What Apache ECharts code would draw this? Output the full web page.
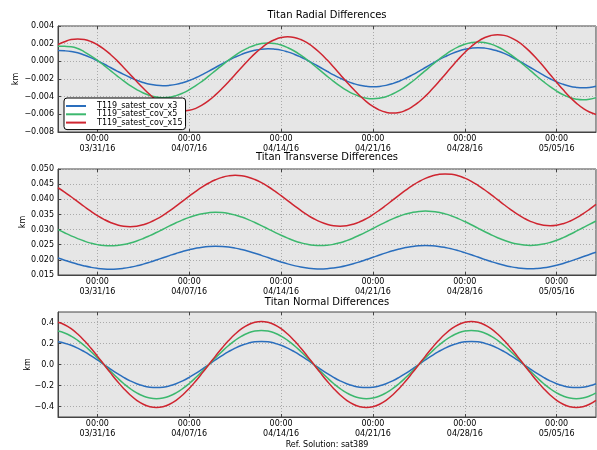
<!DOCTYPE html>
<html><head><meta charset="utf-8">
<script src="https://cdn.jsdelivr.net/npm/echarts@6/dist/echarts.min.js"></script>
<style>html,body{margin:0;padding:0;background:#fff}#c{width:597px;height:450px}</style>
</head><body><div id="c"></div>
<script>
// Samples every half day starting 2016-03-28 00:00 (x in days from that start)
const sampleStepDays = 0.5;
const seriesNames = ['T119_satest_cov_x3', 'T119_satest_cov_x5', 'T119_satest_cov_x15'];
const plotTitles = ['Titan Radial Differences', 'Titan Transverse Differences', 'Titan Normal Differences'];
const footerText = 'Ref. Solution: sat389';
const xTickDays = [3, 10, 17, 24, 31, 38];
const xTickLabels = ['00:00\n03/31/16', '00:00\n04/07/16', '00:00\n04/14/16', '00:00\n04/21/16', '00:00\n04/28/16', '00:00\n05/05/16'];
const normTicks = [-0.4, -0.2, 0, 0.2, 0.4];

const radialX3 = [
0.00122,0.00119,0.00111,0.00097,0.00072,0.00042,0.00007,-0.0003,-0.0007,-0.0011,
-0.00148,-0.00183,-0.00215,-0.0024,-0.0026,-0.00272,-0.00276,-0.00272,-0.00261,-0.00242,
-0.00217,-0.00186,-0.0015,-0.00111,-0.0007,-0.00029,0.0001,0.00047,0.00079,0.00105,
0.00125,0.00138,0.00142,0.00138,0.00127,0.00107,0.00081,0.00049,0.00012,-0.00028,
-0.0007,-0.00112,-0.00153,-0.0019,-0.00223,-0.0025,-0.00271,-0.00283,-0.00288,-0.00284,
-0.00272,-0.00252,-0.00225,-0.00192,-0.00154,-0.00113,-0.0007,-0.00027,0.00015,0.00053,
0.00087,0.00115,0.00136,0.00149,0.00154,0.0015,0.00138,0.00117,0.0009,0.00055,
0.00017,-0.00026,-0.0007,-0.00114,-0.00157,-0.00197,-0.00232,-0.0026,-0.00282,-0.00295,
-0.003,-0.00296,-0.00283];
const radialX5 = [
0.00172,0.0017,0.00165,0.00145,0.00108,0.00063,0.00011,-0.00046,-0.00105,-0.00164,
-0.00221,-0.00274,-0.0032,-0.00359,-0.00387,-0.00405,-0.00411,-0.00406,-0.00388,-0.0036,
-0.00322,-0.00276,-0.00223,-0.00165,-0.00105,-0.00045,0.00014,0.00067,0.00115,0.00153,
0.00183,0.00201,0.00207,0.00201,0.00184,0.00155,0.00117,0.00069,0.00015,-0.00044,
-0.00105,-0.00167,-0.00226,-0.00281,-0.00329,-0.00369,-0.00398,-0.00417,-0.00423,-0.00417,
-0.004,-0.0037,-0.00331,-0.00283,-0.00228,-0.00168,-0.00105,-0.00042,0.00018,0.00074,
0.00123,0.00163,0.00194,0.00212,0.00219,0.00213,0.00195,0.00165,0.00125,0.00076,
0.0002,-0.00041,-0.00105,-0.00169,-0.0023,-0.00287,-0.00337,-0.00378,-0.00409,-0.00428,
-0.00435,-0.00429,-0.00411];
const radialX15 = [
0.0019,0.00222,0.00246,0.00254,0.00247,0.00225,0.00188,0.00139,0.00078,0.00008,
-0.00069,-0.00148,-0.00228,-0.00305,-0.00376,-0.00439,-0.00491,-0.00529,-0.00554,-0.00562,
-0.00555,-0.00532,-0.00494,-0.00443,-0.0038,-0.00308,-0.0023,-0.00148,-0.00066,0.00013,
0.00087,0.00151,0.00205,0.00244,0.00269,0.00278,0.00271,0.00247,0.00208,0.00156,
0.00091,0.00017,-0.00064,-0.00148,-0.00233,-0.00314,-0.00389,-0.00456,-0.00511,-0.00552,
-0.00577,-0.00586,-0.00579,-0.00554,-0.00514,-0.0046,-0.00394,-0.00317,-0.00235,-0.00148,
-0.00061,0.00023,0.001,0.00168,0.00225,0.00267,0.00293,0.00302,0.00294,0.00269,
0.00228,0.00173,0.00104,0.00026,-0.00059,-0.00148,-0.00237,-0.00323,-0.00403,-0.00473,
-0.00531,-0.00574,-0.00601];

const transX3 = [
0.0206,0.01988,0.01919,0.01856,0.018,0.01754,0.0172,0.01699,0.01692,0.01699,
0.01721,0.01756,0.01802,0.01859,0.01924,0.01995,0.02068,0.02141,0.02212,0.02278,
0.02335,0.02382,0.02418,0.0244,0.02448,0.02441,0.02421,0.02387,0.0234,0.02284,
0.02219,0.02149,0.02076,0.02003,0.01932,0.01867,0.0181,0.01763,0.01729,0.01707,
0.017,0.01708,0.0173,0.01765,0.01813,0.01871,0.01937,0.02009,0.02084,0.02159,
0.02231,0.02298,0.02357,0.02405,0.02441,0.02464,0.02472,0.02465,0.02444,0.02409,
0.02362,0.02304,0.02238,0.02167,0.02092,0.02017,0.01945,0.01879,0.01821,0.01773,
0.01737,0.01715,0.01708,0.01716,0.01738,0.01775,0.01823,0.01882,0.0195,0.02024,
0.021,0.02177,0.0225];
const transX5 = [
0.03,0.02895,0.02794,0.02701,0.0262,0.02553,0.02503,0.02472,0.02462,0.02473,
0.02504,0.02555,0.02623,0.02706,0.02801,0.02904,0.03012,0.0312,0.03224,0.0332,
0.03404,0.03473,0.03526,0.03558,0.0357,0.03561,0.0353,0.0348,0.03413,0.0333,
0.03235,0.03132,0.03024,0.02916,0.02812,0.02717,0.02632,0.02563,0.02512,0.0248,
0.0247,0.02481,0.02513,0.02565,0.02636,0.02721,0.02819,0.02925,0.03036,0.03147,
0.03254,0.03352,0.03439,0.03511,0.03564,0.03598,0.0361,0.036,0.03569,0.03518,
0.03448,0.03363,0.03265,0.03159,0.03048,0.02937,0.0283,0.02732,0.02645,0.02574,
0.02521,0.02489,0.02478,0.02489,0.02522,0.02576,0.02648,0.02736,0.02837,0.02946,
0.0306,0.03174,0.03284];
const transX15 = [
0.04381,0.04239,0.04084,0.03923,0.03762,0.03606,0.03463,0.03338,0.03235,0.03158,
0.03111,0.03096,0.03112,0.0316,0.03238,0.03343,0.0347,0.03616,0.03774,0.03939,
0.04104,0.04263,0.04409,0.04538,0.04644,0.04723,0.04773,0.04791,0.04776,0.04729,
0.04653,0.04549,0.04422,0.04277,0.04119,0.03955,0.03791,0.03632,0.03486,0.03358,
0.03253,0.03175,0.03127,0.03112,0.03128,0.03177,0.03257,0.03364,0.03494,0.03642,
0.03803,0.03971,0.04139,0.04301,0.0445,0.04581,0.04689,0.0477,0.04821,0.04839,
0.04824,0.04776,0.04698,0.04592,0.04463,0.04315,0.04154,0.03987,0.03819,0.03658,
0.03509,0.03379,0.03272,0.03192,0.03144,0.03128,0.03145,0.03195,0.03275,0.03384,
0.03517,0.03668,0.03832];

const normX3 = [
0.2158,0.2033,0.1829,0.1556,0.1222,0.0842,0.0429,0,-0.0429,-0.0842,
-0.1222,-0.1556,-0.1829,-0.2033,-0.2158,-0.22,-0.2158,-0.2033,-0.1829,-0.1556,
-0.1222,-0.0842,-0.0429,0,0.0429,0.0842,0.1222,0.1556,0.1829,0.2033,
0.2158,0.22,0.2158,0.2033,0.1829,0.1556,0.1222,0.0842,0.0429,0,
-0.0429,-0.0842,-0.1222,-0.1556,-0.1829,-0.2033,-0.2158,-0.22,-0.2158,-0.2033,
-0.1829,-0.1556,-0.1222,-0.0842,-0.0429,0,0.0429,0.0842,0.1222,0.1556,
0.1829,0.2033,0.2158,0.22,0.2158,0.2033,0.1829,0.1556,0.1222,0.0842,
0.0429,0,-0.0429,-0.0842,-0.1222,-0.1556,-0.1829,-0.2033,-0.2158,-0.22,
-0.2158,-0.2033,-0.1829];
const normX5 = [
0.3188,0.3003,0.2702,0.2298,0.1806,0.1244,0.0634,0,-0.0634,-0.1244,
-0.1806,-0.2298,-0.2702,-0.3003,-0.3188,-0.325,-0.3188,-0.3003,-0.2702,-0.2298,
-0.1806,-0.1244,-0.0634,0,0.0634,0.1244,0.1806,0.2298,0.2702,0.3003,
0.3188,0.325,0.3188,0.3003,0.2702,0.2298,0.1806,0.1244,0.0634,0,
-0.0634,-0.1244,-0.1806,-0.2298,-0.2702,-0.3003,-0.3188,-0.325,-0.3188,-0.3003,
-0.2702,-0.2298,-0.1806,-0.1244,-0.0634,0,0.0634,0.1244,0.1806,0.2298,
0.2702,0.3003,0.3188,0.325,0.3188,0.3003,0.2702,0.2298,0.1806,0.1244,
0.0634,0,-0.0634,-0.1244,-0.1806,-0.2298,-0.2702,-0.3003,-0.3188,-0.325,
-0.3188,-0.3003,-0.2702];
const normX15 = [
0.4021,0.3788,0.3409,0.2899,0.2278,0.1569,0.08,0,-0.08,-0.1569,
-0.2278,-0.2899,-0.3409,-0.3788,-0.4021,-0.41,-0.4021,-0.3788,-0.3409,-0.2899,
-0.2278,-0.1569,-0.08,0,0.08,0.1569,0.2278,0.2899,0.3409,0.3788,
0.4021,0.41,0.4021,0.3788,0.3409,0.2899,0.2278,0.1569,0.08,0,
-0.08,-0.1569,-0.2278,-0.2899,-0.3409,-0.3788,-0.4021,-0.41,-0.4021,-0.3788,
-0.3409,-0.2899,-0.2278,-0.1569,-0.08,0,0.08,0.1569,0.2278,0.2899,
0.3409,0.3788,0.4021,0.41,0.4021,0.3788,0.3409,0.2899,0.2278,0.1569,
0.08,0,-0.08,-0.1569,-0.2278,-0.2899,-0.3409,-0.3788,-0.4021,-0.41,
-0.4021,-0.3788,-0.3409];

const colors = ['#2a6ebd', '#3cb86e', '#cf2530'];
const FONT = 'DejaVu Sans';
const AX = '#444';

const chart = echarts.init(document.getElementById('c'), null, {renderer: 'canvas'});

const gridDefs = [{top: 26, height: 106}, {top: 169, height: 106}, {top: 312, height: 105}];
const panels = [
  {data: [radialX3, radialX5, radialX15], y: {min: -0.008, max: 0.004, interval: 0.002}, dec: 3, nameGap: 38},
  {data: [transX3, transX5, transX15], y: {min: 0.015, max: 0.05, interval: 0.005}, dec: 3, nameGap: 31},
  {data: [normX3, normX5, normX15], y: {min: -0.5, max: 0.5, custom: normTicks}, dec: 1, nameGap: 26}
];

const grid = gridDefs.map(g => ({left: 58, width: 538, top: g.top, height: g.height, show: true,
  backgroundColor: '#e6e6e6', borderColor: AX, borderWidth: 1, containLabel: false}));

const xAxis = gridDefs.map((g, i) => ({
  type: 'value', gridIndex: i, min: 0, max: 41,
  axisLine: {show: true, onZero: false, lineStyle: {color: AX, width: 1}},
  axisTick: {show: true, inside: true, length: 3, customValues: xTickDays, lineStyle: {color: AX}},
  axisLabel: {customValues: xTickDays, color: '#000', fontFamily: FONT, fontSize: 8, lineHeight: 10, margin: 2,
    formatter: v => xTickLabels[xTickDays.indexOf(Math.round(v))] || ''},
  splitLine: {show: true, lineStyle: {color: '#aaaaaa', type: [1, 2], width: 1}}
}));
// top-edge inward ticks (matplotlib style)
gridDefs.forEach((g, i) => xAxis.push({
  type: 'value', gridIndex: i, min: 0, max: 41, position: 'top',
  axisLine: {show: false, onZero: false},
  axisTick: {show: true, inside: true, length: 3, customValues: xTickDays, lineStyle: {color: AX}},
  axisLabel: {show: false, customValues: xTickDays},
  splitLine: {show: false}
}));

const yAxis = panels.map((p, i) => {
  const ax = {
    type: 'value', gridIndex: i, min: p.y.min, max: p.y.max,
    name: 'km', nameLocation: 'middle', nameGap: p.nameGap, nameRotate: 90, nameMoveOverlap: false,
    nameTextStyle: {color: '#000', fontFamily: FONT, fontSize: 8},
    axisLine: {show: true, onZero: false, lineStyle: {color: AX, width: 1}},
    axisTick: {show: true, inside: true, length: 3, lineStyle: {color: AX}},
    axisLabel: {color: '#000', fontFamily: FONT, fontSize: 8, margin: 4,
      formatter: v => {
        let s = v.toFixed(p.dec);
        if (/^-0\.0+$/.test(s)) s = s.slice(1);
        return s.replace('-', '\u2212');
      }},
    splitLine: {show: true, lineStyle: {color: '#aaaaaa', type: [1, 2], width: 1}}
  };
  if (p.y.interval) ax.interval = p.y.interval;
  if (p.y.custom) { ax.axisTick.customValues = p.y.custom; ax.axisLabel.customValues = p.y.custom; }
  return ax;
});

const series = [];
panels.forEach((p, i) => {
  p.data.forEach((arr, k) => {
    series.push({
      name: seriesNames[k], type: 'line', xAxisIndex: i, yAxisIndex: i,
      data: arr.map((v, j) => [j * sampleStepDays, v]), smooth: 0.5, showSymbol: false, symbol: 'none',
      lineStyle: {color: colors[k], width: 1.5}, itemStyle: {color: colors[k]}, z: 3 + k
    });
  });
});

const titleCenters = [16, 158, 303];
const title = plotTitles.map((t, i) => ({text: t, left: 327, top: titleCenters[i] - 6, textAlign: 'center', padding: 0,
  textStyle: {color: '#000', fontFamily: FONT, fontSize: 10, fontWeight: 'normal'}}));
title.push({text: footerText, left: 327, top: 441, textAlign: 'center', padding: 0,
  textStyle: {color: '#000', fontFamily: FONT, fontSize: 8, fontWeight: 'normal'}});

chart.setOption({
  animation: false,
  title: title,
  grid: grid,
  xAxis: xAxis,
  yAxis: yAxis,
  legend: {
    data: seriesNames, orient: 'vertical', left: 64, top: 98, z: 10,
    backgroundColor: '#fff', borderColor: '#000', borderWidth: 1, borderRadius: 3,
    padding: [4, 3, 3, 2], itemGap: 0.3, itemWidth: 20, itemHeight: 2, icon: 'rect',
    textStyle: {color: '#000', fontFamily: FONT, fontSize: 8, lineHeight: 7, padding: [0, 0, 0, 6]}
  },
  series: series
});
</script></body></html>
